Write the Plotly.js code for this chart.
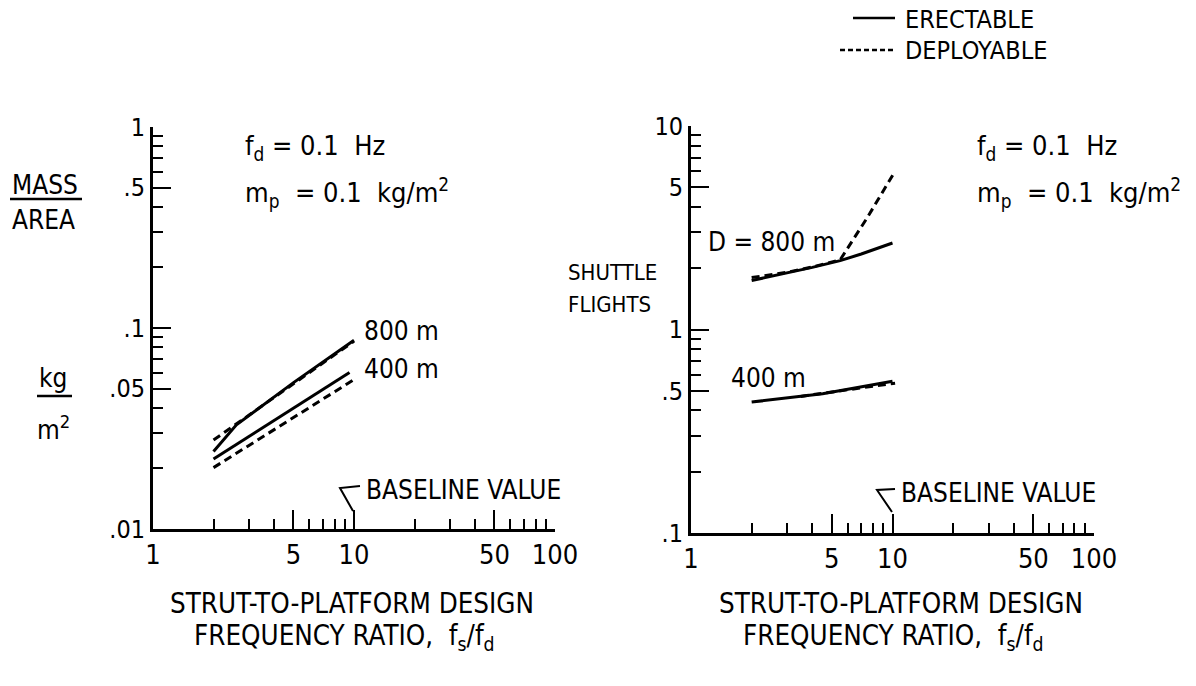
<!DOCTYPE html>
<html>
<head>
<meta charset="utf-8">
<script src="https://cdn.plot.ly/plotly-3.0.1.min.js"></script>
<style>html,body{margin:0;padding:0;background:#fff;}#chart{width:1196px;height:686px;}</style>
</head>
<body>
<div id="chart"></div>
<script>
// ---- data ----
const xTickVals = [1, 5, 10, 50, 100];
const xTickText = ['1', '5', '10', '50', '100'];
const xMinorVals = [2, 3, 4, 6, 7, 8, 9, 20, 30, 40, 60, 70, 80, 90];

const massTickVals = [0.01, 0.05, 0.1, 0.5, 1];
const massTickText = ['.01', '.05', '.1', '.5', '1'];
const massMinorVals = [0.02, 0.03, 0.04, 0.06, 0.07, 0.08, 0.09, 0.2, 0.3, 0.4, 0.6, 0.7, 0.8, 0.9];

const flightTickVals = [0.1, 0.5, 1, 5, 10];
const flightTickText = ['.1', '.5', '1', '5', '10'];
const flightMinorVals = [0.2, 0.3, 0.4, 0.6, 0.7, 0.8, 0.9, 2, 3, 4, 6, 7, 8, 9];

// left panel: mass/area (kg/m^2)
const mass800ErectX = [2, 2.6, 5, 10];
const mass800ErectY = [0.0243, 0.033, 0.0535, 0.087];
const mass800DeployX = [2, 10];
const mass800DeployY = [0.0277, 0.086];
const mass400ErectX = [2, 9.5];
const mass400ErectY = [0.0223, 0.060];
const mass400DeployX = [2, 10.3];
const mass400DeployY = [0.0202, 0.0564];

// right panel: shuttle flights
const fl800ErectX = [2, 3, 4, 5.5, 7, 10];
const fl800ErectY = [1.74, 1.89, 2.02, 2.18, 2.35, 2.66];
const fl800DeployX = [2, 3, 4, 5.5, 7.5, 10.3];
const fl800DeployY = [1.80, 1.91, 2.03, 2.2, 3.55, 6.0];
const fl400ErectX = [2, 4.5, 10];
const fl400ErectY = [0.44, 0.483, 0.557];
const fl400DeployX = [3.5, 10.3];
const fl400DeployY = [0.469, 0.545];

// ---- layout helpers ----
const W = 1196, H = 686;
const fx = p => p / W;
const fy = p => 1 - p / H;
const FONT = '"DejaVu Sans Condensed", "Liberation Sans Narrow", "DejaVu Sans", sans-serif';
const DASH = '8px,5px';

function line(x, y, dashed, xa, ya) {
  return {
    x: x, y: y, xaxis: xa, yaxis: ya, mode: 'lines', type: 'scatter',
    line: {color: '#000', width: 3, dash: dashed ? DASH : 'solid'},
    hoverinfo: 'skip', showlegend: false
  };
}

const traces = [
  line(mass800ErectX, mass800ErectY, false, 'x', 'y'),
  line(mass800DeployX, mass800DeployY, true, 'x', 'y'),
  line(mass400ErectX, mass400ErectY, false, 'x', 'y'),
  line(mass400DeployX, mass400DeployY, true, 'x', 'y'),
  line(fl800ErectX, fl800ErectY, false, 'x2', 'y2'),
  line(fl800DeployX, fl800DeployY, true, 'x2', 'y2'),
  line(fl400ErectX, fl400ErectY, false, 'x2', 'y2'),
  line(fl400DeployX, fl400DeployY, true, 'x2', 'y2')
];

function xAxis(domain, anchor) {
  return {
    type: 'log', range: [0, 2], domain: domain, anchor: anchor,
    showline: true, linecolor: '#000', linewidth: 3, mirror: false,
    showgrid: false, zeroline: false,
    ticks: 'inside', tickmode: 'array', tickvals: xTickVals, ticktext: xTickText,
    ticklen: 19, tickwidth: 2, tickcolor: '#000',
    tickfont: {family: FONT, size: 27, color: '#000'},
    minor: {tickmode: 'array', tickvals: xMinorVals, ticks: 'inside', ticklen: 10, tickwidth: 2, tickcolor: '#000', showgrid: false},
    fixedrange: true
  };
}
function yAxis(range, domain, anchor, vals, text, minor) {
  return {
    type: 'log', range: range, domain: domain, anchor: anchor,
    showline: true, linecolor: '#000', linewidth: 3, mirror: false,
    showgrid: false, zeroline: false,
    ticks: 'inside', tickmode: 'array', tickvals: vals, ticktext: text,
    ticklen: 18, tickwidth: 2, tickcolor: '#000',
    tickfont: {family: FONT, size: 25, color: '#000'},
    minor: {tickmode: 'array', tickvals: minor, ticks: 'inside', ticklen: 10, tickwidth: 2, tickcolor: '#000', showgrid: false},
    fixedrange: true
  };
}

function note(text, px, py, size, xanchor, yanchor) {
  return {
    xref: 'paper', yref: 'paper', x: fx(px), y: fy(py), text: text,
    showarrow: false, xanchor: xanchor || 'left', yanchor: yanchor || 'middle',
    font: {family: FONT, size: size, color: '#000'}, align: 'left'
  };
}

const FD = 'f<sub>d</sub> = 0.1&nbsp; Hz';
const MP = 'm<sub>p</sub> &nbsp;= 0.1&nbsp; kg/m<sup>2</sup>';
const XT1 = 'STRUT-TO-PLATFORM DESIGN';
const XT2 = 'FREQUENCY RATIO, &nbsp;f<sub>s</sub>/f<sub>d</sub>';

const annotations = [
  // legend
  note('ERECTABLE', 903, 19, 25),
  note('DEPLOYABLE', 903, 51, 25),
  // left panel texts
  note(FD, 243, 148, 27),
  note(MP, 243, 193, 27),
  note('MASS', 10, 185, 26),
  note('AREA', 10, 220, 26),
  note('kg', 37, 378, 26),
  note('m<sup>2</sup>', 35, 428, 26),
  note('800 m', 362, 331, 26),
  note('400 m', 362, 369, 26),
  note('BASELINE VALUE', 364, 490, 26),
  note(XT1, 352, 603, 27.5, 'center'),
  note(XT2, 345, 637, 27.5, 'center'),
  // right panel texts
  note(FD, 975, 148, 27),
  note(MP, 975, 193, 27),
  note('SHUTTLE', 566, 272, 22),
  note('FLIGHTS', 566, 304, 22),
  note('D = 800 m', 706, 242, 26),
  note('400 m', 729, 378, 26),
  note('BASELINE VALUE', 899, 493, 26),
  note(XT1, 901, 603, 27.5, 'center'),
  note(XT2, 893, 637, 27.5, 'center')
];

function seg(x0, y0, x1, y1, dash) {
  return {
    type: 'line', xref: 'paper', yref: 'paper',
    x0: fx(x0), y0: fy(y0), x1: fx(x1), y1: fy(y1),
    line: {color: '#000', width: 2.5, dash: dash || 'solid'}
  };
}
function path(pts) {
  let d = pts.map((p, i) => (i ? 'L' : 'M') + fx(p[0]).toFixed(5) + ',' + fy(p[1]).toFixed(5)).join(' ');
  return {type: 'path', xref: 'paper', yref: 'paper', path: d, line: {color: '#000', width: 2}};
}

const shapes = [
  seg(853, 18, 895, 18),
  seg(840, 50, 895, 50, '5px,3px'),
  seg(10, 199, 82, 199),      // MASS/AREA underline
  seg(37, 396, 72, 396),      // kg / m^2 fraction bar
  path([[353, 511], [340, 488], [360, 486]]),
  path([[892, 512], [877, 490], [895, 489]])
];

const layout = {
  width: W, height: H,
  margin: {l: 0, r: 0, t: 0, b: 0},
  paper_bgcolor: '#fff', plot_bgcolor: 'rgba(0,0,0,0)',
  showlegend: false,
  xaxis: xAxis([fx(153), fx(555)], 'y'),
  yaxis: yAxis([-2, 0], [fy(529), fy(127)], 'x', massTickVals, massTickText, massMinorVals),
  xaxis2: xAxis([fx(691), fx(1094)], 'y2'),
  yaxis2: yAxis([-1, 1], [fy(533), fy(126)], 'x2', flightTickVals, flightTickText, flightMinorVals),
  annotations: annotations,
  shapes: shapes,
  font: {family: FONT, color: '#000'}
};

Plotly.newPlot('chart', traces, layout, {staticPlot: true, displayModeBar: false});
</script>
</body>
</html>
